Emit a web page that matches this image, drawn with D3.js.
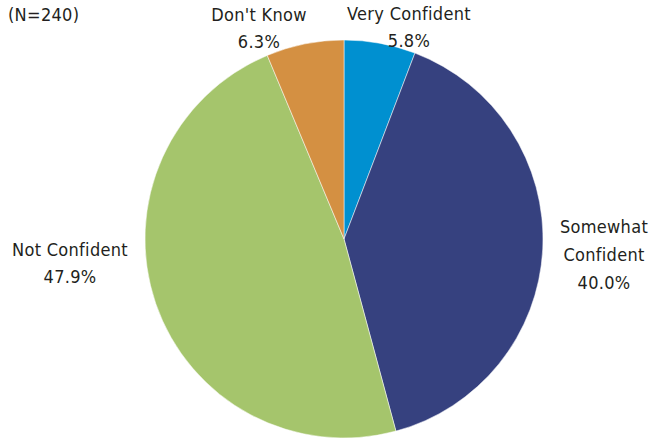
<!DOCTYPE html>
<html>
<head>
<meta charset="utf-8">
<script src="https://cdn.jsdelivr.net/npm/d3@7"></script>
<style>
  body { margin: 0; background: #fff; }
  svg text { font-family: "DejaVu Sans Condensed", "DejaVu Sans", sans-serif; font-stretch: condensed; font-size: 18px; fill: #231f20; letter-spacing: 0.3px; }
</style>
</head>
<body>
<div class="chart"></div>
<script>
// Data
const categories = ['Very Confident', 'Somewhat Confident', 'Not Confident', "Don't Know"];
const values = [5.8, 40.0, 47.9, 6.3];
const colors = ['#0090d0', '#36417f', '#a5c56c', '#d49042'];

// Label text lines and where they sit
const labelLines = [
  ['Very Confident', '5.8%'],
  ['Somewhat', 'Confident', '40.0%'],
  ['Not Confident', '47.9%'],
  ["Don't Know", '6.3%'],
];
const labelPos = [
  { x: 409, y: 20, dy: 27 },
  { x: 604, y: 233, dy: 28 },
  { x: 70, y: 256, dy: 27 },
  { x: 259, y: 21, dy: 27 },
];

const width = 652;
const height = 439;
const cx = 344;
const cy = 239;
const radius = 199;

const svg = d3
  .select('.chart')
  .append('svg')
  .attr('width', width)
  .attr('height', height);

const pie = d3.pie().sort(null).value(d => d.value);
const arc = d3.arc().innerRadius(0).outerRadius(radius);

const data = categories.map((name, i) => ({ name, value: values[i], color: colors[i] }));

const g = svg.append('g').attr('transform', `translate(${cx},${cy})`);

g.selectAll('path.slice')
  .data(pie(data))
  .enter()
  .append('path')
  .attr('class', 'slice')
  .attr('d', arc)
  .attr('fill', d => d.data.color)
  .attr('stroke', '#fff')
  .attr('stroke-width', 0.5);

// Labels
labelLines.forEach((lines, i) => {
  const p = labelPos[i];
  const t = svg.append('text')
    .attr('text-anchor', 'middle')
    .attr('x', p.x)
    .attr('y', p.y);
  lines.forEach((line, j) => {
    t.append('tspan')
      .attr('x', p.x)
      .attr('dy', j === 0 ? 0 : p.dy)
      .text(line);
  });
});

svg.append('text')
  .attr('x', 8)
  .attr('y', 21)
  .text('(N=240)');
</script>
</body>
</html>
